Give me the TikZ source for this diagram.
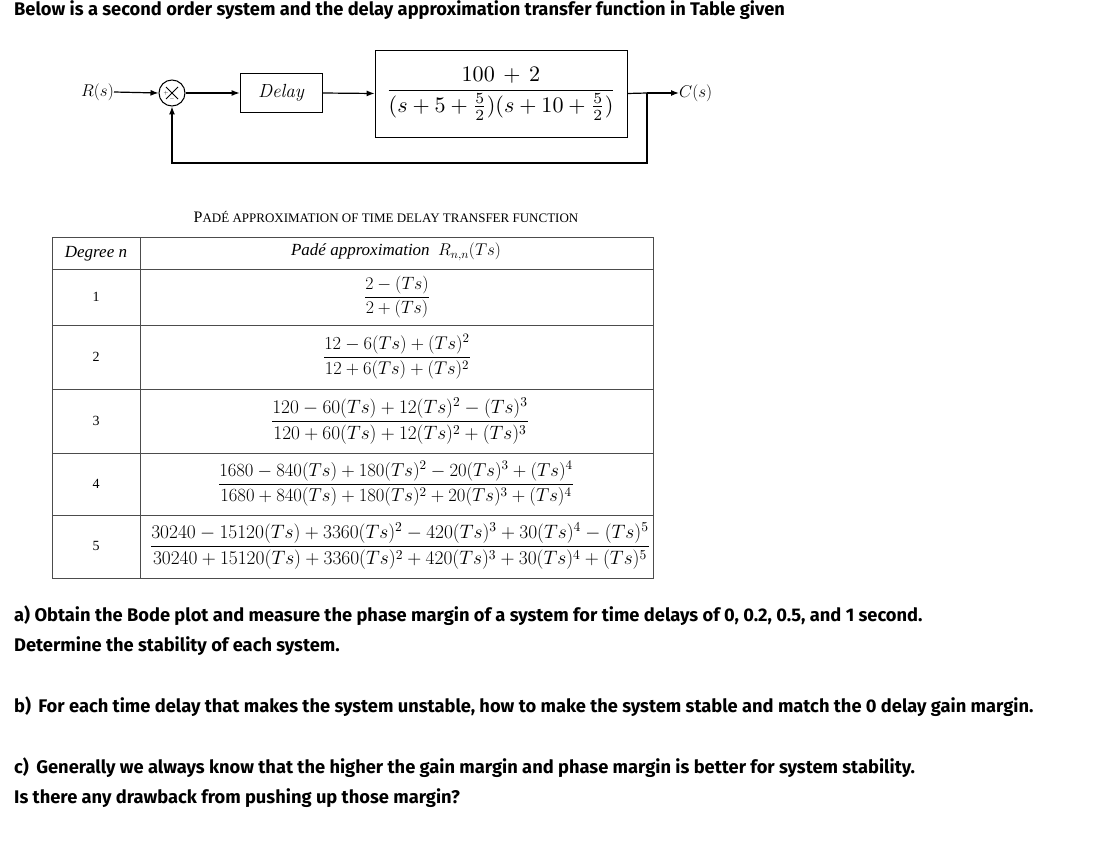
\documentclass[tikz,border=0pt]{standalone}
\usepackage{fix-cm}
\usepackage{fontspec}
\usepackage{amsmath}
\usepackage{graphicx}
\setsansfont{Fira Sans}
\newfontfamily\tabfont{Liberation Serif}
\usetikzlibrary{arrows.meta,calc}
\begin{document}
\begin{tikzpicture}[x=1pt,y=-1pt,
  q/.style={anchor=base west,inner sep=0,font=\sffamily\fontsize{18.3}{20}\selectfont\bfseries},
  blk/.style={draw,line width=0.8pt},
  arr/.style={-{Latex[length=8pt,width=6pt]},line width=1.2pt},
  ln/.style={line width=1.2pt},
  cell/.style={inner sep=0,font=\tabfont\fontsize{17}{19}\selectfont},
  grid/.style={draw=black!70,line width=0.6pt}]
\useasboundingbox (0,0) rectangle (1103,848);
\fill[white] (0,0) rectangle (1103,848);
\node[q] (t0) at (14,16) {Below is a second order system and the delay approximation transfer function in Table given};
% block diagram
\node[anchor=east,inner sep=0,font=\fontsize{17}{19}\selectfont] (R) at (114,92) {$R(s)$};
\node[draw,circle,minimum size=26pt,inner sep=0,line width=1pt] (S) at (172,93) {};
\draw[line width=0.9pt] ($(S.center)+(-6,-6)$) -- ($(S.center)+(6,6)$) ($(S.center)+(6,-6)$) -- ($(S.center)+(-6,6)$);
\node[font=\tiny,inner sep=0] (pl) at ($(S.center)+(-6,0)$) {$+$};
\node[font=\tiny,inner sep=0] (mi) at ($(S.center)+(0,6)$) {$-$};
\node[blk,minimum width=82pt,minimum height=39pt,font=\fontsize{19}{21}\selectfont] (D) at (281,93) {$\mathit{Delay}$};
\node[blk,minimum width=252pt,minimum height=87pt] (G) at (501,93.5) {\resizebox{230pt}{!}{$\dfrac{\quad100\,+\,2\quad}{(s+5+\frac{5}{2})(s+10+\frac{5}{2})}$}};
\coordinate (B) at (647,93);
\coordinate (B2) at (647,163);
\coordinate (B3) at (172,163);
\node[anchor=west,inner sep=0,font=\fontsize{17}{19}\selectfont] (C) at (679,93) {$C(s)$};
\draw[arr] (R.east) -- (S.west);
\draw[arr] (S.east) -- (D.west);
\draw[arr] (D.east) -- (G.west);
\draw[ln] (G.east) -- (B);
\draw[arr] (B) -- (C.west);
\draw[arr] (B) -- (B2) -- (B3) -- (S.south);
% table
\node[anchor=base,inner sep=0,font=\tabfont\fontsize{16}{17}\selectfont] (tt) at (386,222) {P\fontsize{13}{14}\selectfont AD\'E APPROXIMATION OF TIME DELAY TRANSFER FUNCTION};
\draw[grid] (52,237) rectangle (653,578);
\draw[grid] (140,237) -- (140,578);
\foreach \y in {269,325,389,453,515} \draw[grid] (52,\y) -- (653,\y);
\node[cell] (h1) at (96,254) {\itshape Degree n};
\node[cell] (h2) at (396,252) {\itshape Pad\'e approximation \ $R_{n,n}(Ts)$};
\foreach \n/\y in {1/297,2/357,3/421,4/484,5/546} \node[cell,font=\tabfont\fontsize{14}{16}\selectfont] (d\n) at (96,\y) {\n};
\node[cell] (p1) at (397,297) {\resizebox{66pt}{!}{$\dfrac{2-(Ts)}{2+(Ts)}$}};
\node[cell] (p2) at (397,357) {\resizebox{148pt}{!}{$\dfrac{12-6(Ts)+(Ts)^2}{12+6(Ts)+(Ts)^2}$}};
\node[cell] (p3) at (400,421) {\resizebox{258pt}{!}{$\dfrac{120-60(Ts)+12(Ts)^2-(Ts)^3}{120+60(Ts)+12(Ts)^2+(Ts)^3}$}};
\node[cell] (p4) at (396,484) {\resizebox{356pt}{!}{$\dfrac{1680-840(Ts)+180(Ts)^2-20(Ts)^3+(Ts)^4}{1680+840(Ts)+180(Ts)^2+20(Ts)^3+(Ts)^4}$}};
\node[cell] (p5) at (400,546) {\resizebox{500pt}{!}{$\dfrac{30240-15120(Ts)+3360(Ts)^2-420(Ts)^3+30(Ts)^4-(Ts)^5}{30240+15120(Ts)+3360(Ts)^2+420(Ts)^3+30(Ts)^4+(Ts)^5}$}};
% questions
\node[q] (qa1) at (14,621) {a) Obtain the Bode plot and measure the phase margin of a system for time delays of 0, 0.2, 0.5, and 1 second.};
\node[q] (qa2) at (14,651) {Determine the stability of each system.};
\node[q] (qb) at (14,712) {b)\, For each time delay that makes the system unstable, how to make the system stable and match the 0 delay gain margin.};
\node[q] (qc1) at (14,773) {c)\, Generally we always know that the higher the gain margin and phase margin is better for system stability.};
\node[q] (qc2) at (14,803) {Is there any drawback from pushing up those margin?};
\end{tikzpicture}
\end{document}
